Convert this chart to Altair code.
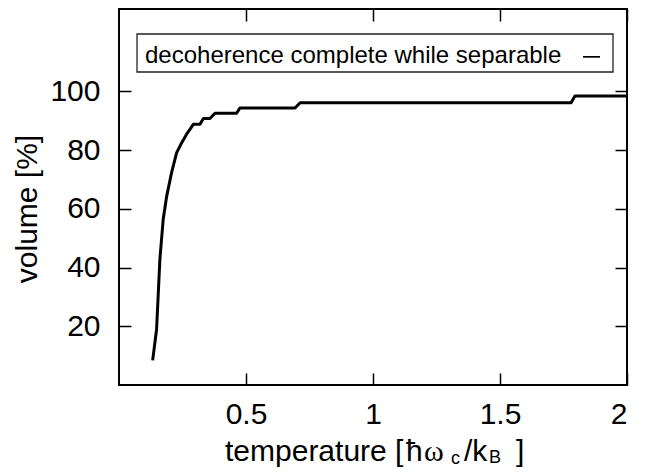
import altair as alt
import pandas as pd

# ---- data ----
temperature = [0.1325, 0.148, 0.161, 0.174, 0.188, 0.207, 0.227, 0.247, 0.266, 0.280,
               0.293, 0.319, 0.332, 0.358, 0.378, 0.463, 0.476, 0.693, 0.713, 1.780,
               1.795, 2.0]
volume = [8.4, 19.0, 42.8, 56.4, 64.4, 72.3, 79.1, 82.5, 85.4, 87.1,
          88.8, 88.8, 90.7, 90.7, 92.5, 92.5, 94.3, 94.3, 96.1, 96.1,
          98.4, 98.4]
x_ticks = [0.5, 1, 1.5, 2]
y_ticks = [20, 40, 60, 80, 100]
legend_label = "decoherence complete while separable"
y_title = "volume [%]"
x_title_parts = ["temperature [", "ħ", "ω", "c", "/k", "B", "]"]

df = pd.DataFrame({"T": temperature, "V": volume})

W, H = 508, 376
FONT = "Liberation Sans"

x_scale = alt.Scale(domain=[0, 2], nice=False, zero=False)
y_scale = alt.Scale(domain=[0, 128], nice=False, zero=False)

base = alt.Chart(df)

line = base.mark_line(color="black", strokeWidth=3, strokeJoin="round").encode(
    x=alt.X("T:Q", scale=x_scale,
            axis=alt.Axis(orient="bottom", values=x_ticks, format="~g", offset=-12,
                          tickSize=12, domain=False, grid=False, labelPadding=14,
                          title=None)),
    y=alt.Y("V:Q", scale=y_scale,
            axis=alt.Axis(orient="left", values=y_ticks, format="d", offset=-12,
                          tickSize=12, domain=False, grid=False, labelPadding=19,
                          title=None)),
)

mirror = base.mark_line(opacity=0).encode(
    x=alt.X("T:Q", scale=x_scale,
            axis=alt.Axis(orient="top", values=x_ticks, offset=-12, tickSize=12,
                          labels=False, domain=False, grid=False, title=None)),
    y=alt.Y("V:Q", scale=y_scale,
            axis=alt.Axis(orient="right", values=y_ticks, offset=-12, tickSize=12,
                          labels=False, domain=False, grid=False, title=None)),
)


def label(txt, x, y, size=30, font=FONT, align="left", angle=0):
    return alt.Chart(pd.DataFrame({"t": [txt]})).mark_text(
        align=align, baseline="alphabetic", fontSize=size, font=font,
        color="black", angle=angle
    ).encode(x=alt.value(x), y=alt.value(y), text="t:N")


# axis titles
ytitle = label(y_title, -82, 200, align="center", angle=270)
xt = [
    label(x_title_parts[0], 106, 452),
    label(x_title_parts[1], 287, 452),
    label(x_title_parts[2], 305, 452, font="Liberation Serif"),
    label(x_title_parts[3], 332, 455, size=18),
    label(x_title_parts[4], 345, 452),
    label(x_title_parts[5], 370, 454, size=18),
    label(x_title_parts[6], 397, 452),
]

# legend box
box_df = pd.DataFrame({"t": [legend_label]})
box = alt.Chart(box_df).mark_rect(fill="white", stroke="#222", strokeWidth=1.3).encode(
    x=alt.value(18), x2=alt.value(494), y=alt.value(25), y2=alt.value(63)
)
legend_text = label(legend_label, 26, 54, size=24)
sample = alt.Chart(box_df).mark_rect(color="black").encode(
    x=alt.value(464), x2=alt.value(481), y=alt.value(47), y2=alt.value(48.7)
)

chart = alt.layer(line, mirror, box, legend_text, sample, ytitle, *xt).resolve_axis(
    x="independent", y="independent"
).properties(
    width=W, height=H,
    autosize=alt.AutoSizeParams(type="none"),
    padding={"left": 111, "top": 1, "right": 22, "bottom": 83},
).configure_view(
    stroke="black", strokeWidth=2
).configure_axis(
    labelFont=FONT, labelFontSize=30, labelColor="black",
    tickColor="black", tickWidth=1.5
)

chart.save("out.html", embed_options={"renderer": "svg", "actions": False})
